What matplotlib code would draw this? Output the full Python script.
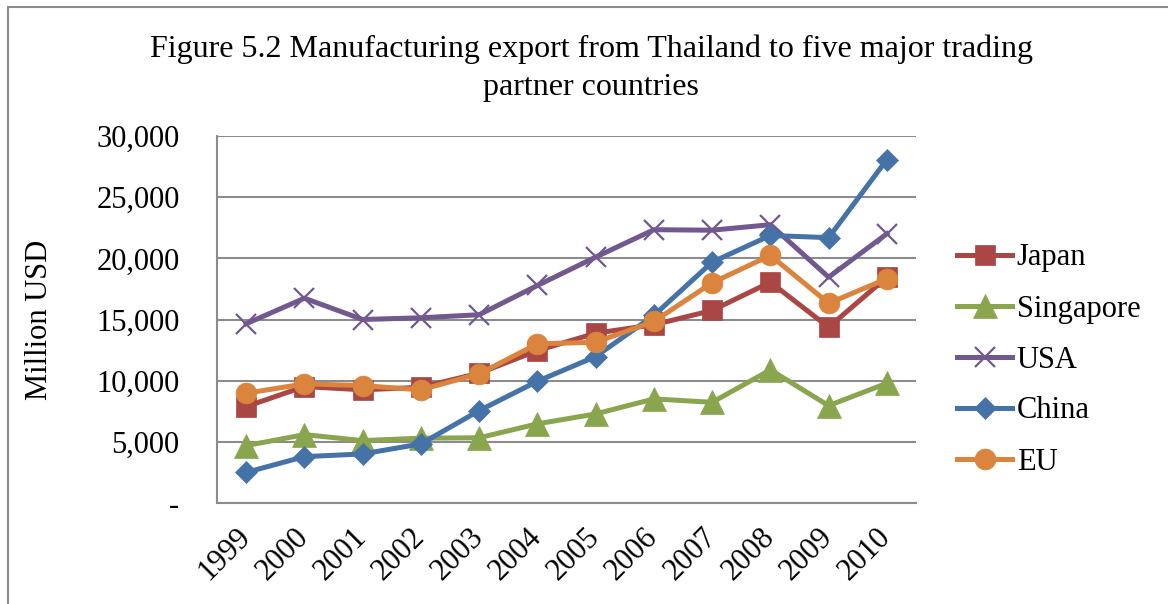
import numpy as np
import matplotlib
matplotlib.use('Agg')
import matplotlib.pyplot as plt
import matplotlib.patches as patches
import matplotlib.transforms as mtransforms
from matplotlib.ticker import FuncFormatter

plt.rcParams['font.family'] = ['Liberation Serif', 'DejaVu Serif']

years = ['1999', '2000', '2001', '2002', '2003', '2004',
         '2005', '2006', '2007', '2008', '2009', '2010']

japan = [7880, 9520, 9250, 9460, 10610, 12460, 13880, 14570, 15740, 18050, 14370, 18460]
singapore = [4690, 5590, 5100, 5300, 5330, 6470, 7280, 8510, 8230, 10880, 7960, 9790]
usa = [14650, 16740, 15000, 15140, 15390, 17780, 20100, 22340, 22300, 22750, 18460, 22010]
china = [2500, 3790, 4010, 4830, 7550, 9950, 11970, 15330, 19690, 21870, 21690, 28070]
eu = [8970, 9740, 9600, 9250, 10560, 13010, 13140, 14840, 18000, 20240, 16330, 18330]

series_names = ['Japan', 'Singapore', 'USA', 'China', 'EU']
series_vals = [japan, singapore, usa, china, eu]
colors = ['#AA4643', '#89A54E', '#71588F', '#4572A7', '#DB843D']
markers = ['s', '^', 'x', 'D', 'o']
msizes = [14, 17, 15, 11.5, 15]

y_ticks = [0, 5000, 10000, 15000, 20000, 25000, 30000]

fig = plt.figure(figsize=(11.68, 6.04), dpi=100)
ax = fig.add_axes([217 / 1168, 1 - 503 / 604, 699 / 1168, 367 / 604])

x = np.arange(len(years))
for name, vals, c, m, ms in zip(series_names, series_vals, colors, markers, msizes):
    ax.plot(x, vals, color=c, lw=3.6, marker=m, markersize=ms,
            markeredgewidth=1.6 if m == 'x' else 0.5, markeredgecolor=c,
            label=name, clip_on=False)

ax.set_xlim(-0.5, len(years) - 0.5)
ax.set_ylim(0, 30000)
ax.set_yticks(y_ticks)
ax.yaxis.set_major_formatter(FuncFormatter(lambda v, p: '-' if v == 0 else f'{int(v):,}'))
ax.set_xticks(x)
ax.set_xticklabels(years, rotation=45, ha='right', va='top')

ax.tick_params(axis='y', length=0, pad=27, labelsize=22)
ax.tick_params(axis='x', length=0, pad=2, labelsize=22)

# shift year labels (after tick_params, which resets label transforms)
offset = mtransforms.ScaledTranslation(10 / 100, -17 / 100, fig.dpi_scale_trans)
for lbl in ax.get_xticklabels():
    lbl.set_transform(lbl.get_transform() + offset)

ax.grid(axis='y', color='#8C8C8C', lw=1.5)
ax.set_axisbelow(True)
for s in ['top', 'right']:
    ax.spines[s].set_visible(False)
for s in ['left', 'bottom']:
    ax.spines[s].set_color('#8C8C8C')
    ax.spines[s].set_linewidth(1.5)

fig.text(40 / 1168, 1 - 320 / 604, 'Million USD', rotation=90, ha='center', va='center', fontsize=22)
fig.text(591 / 1168, 1 - 34 / 604,
         'Figure 5.2 Manufacturing export from Thailand to five major trading\npartner countries',
         ha='center', va='top', fontsize=23, linespacing=1.42)

leg = fig.legend(loc='center left', bbox_to_anchor=(957 / 1168, 1 - 360 / 604),
                 frameon=False, fontsize=22, handlelength=1.8, handletextpad=0.15,
                 labelspacing=0.72, borderpad=0, borderaxespad=0)

fig.patches.append(patches.Rectangle((8 / 1168, -0.1), 1.2, 1.1 - 7 / 604, fill=False,
                                     edgecolor='#8C8C8C', lw=1.5, transform=fig.transFigure))

fig.savefig('out.png', dpi=100)
